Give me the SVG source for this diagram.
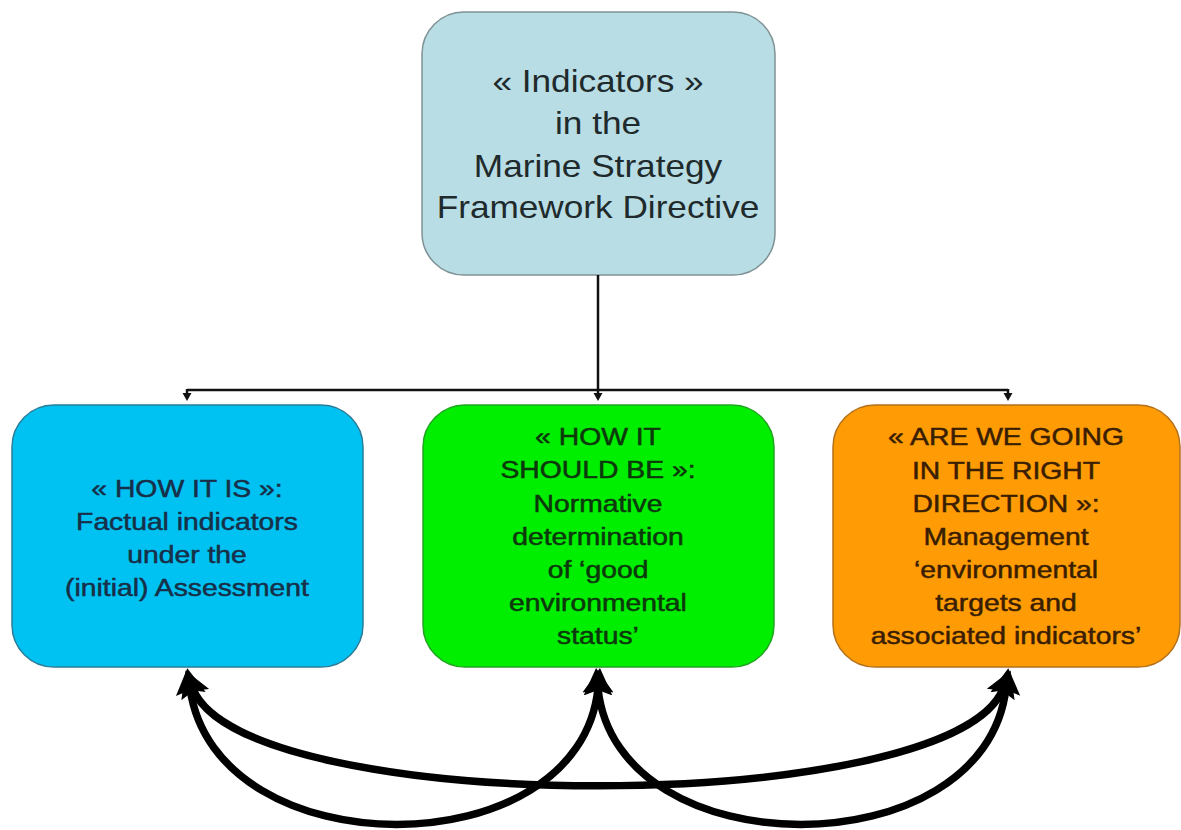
<svg xmlns="http://www.w3.org/2000/svg" width="1181" height="830" viewBox="0 0 1181 830">
  <defs>
    <marker id="bigArrow" markerUnits="userSpaceOnUse" markerWidth="30" markerHeight="32" refX="6" refY="16" orient="auto-start-reverse">
      <path d="M0,1 L26,16 L0,31 L4,16 z" fill="#000"/>
    </marker>
    <marker id="smallArrow" markerUnits="userSpaceOnUse" markerWidth="12" markerHeight="12" refX="2" refY="6" orient="auto">
      <path d="M0,1.5 L8,6 L0,10.5 z" fill="#111"/>
    </marker>
    <style>
      .box { stroke-width: 1.5; }
      .t { font-family: "Liberation Sans", Arial, sans-serif; text-anchor: middle; }
      .top { font-size: 32px; fill: #1f2a2c; }
      .low { font-size: 24px; stroke-width: 0.5px; }
      .thin { fill: none; stroke: #111; stroke-width: 2.5; }
      .thick { fill: none; stroke: #000; stroke-width: 7.5; }
    </style>
  </defs>
  <rect width="1181" height="830" fill="#ffffff"/>

  <g id="node-top">
    <rect class="box" x="422" y="12" width="353" height="263" rx="42" ry="42" fill="#b8dde4" stroke="#7f9194"/>
    <g class="t top" transform="translate(598,0) scale(1.1,1)">
      <text x="0" y="92">« Indicators »</text>
      <text x="0" y="134">in the</text>
      <text x="0" y="177">Marine Strategy</text>
      <text x="0" y="218">Framework Directive</text>
    </g>
  </g>

  <g id="node-how-it-is">
    <rect class="box" x="12" y="405" width="351" height="262" rx="42" ry="42" fill="#00c2f2" stroke="#2a7d98"/>
    <g class="t low" fill="#172f48" stroke="#172f48" transform="translate(187,0) scale(1.18,1)">
      <text x="0" y="497">« HOW IT IS »:</text>
      <text x="0" y="530">Factual indicators</text>
      <text x="0" y="563">under the</text>
      <text x="0" y="596">(initial) Assessment</text>
    </g>
  </g>

  <g id="node-should-be">
    <rect class="box" x="423" y="405" width="351" height="262" rx="42" ry="42" fill="#00ee00" stroke="#22a522"/>
    <g class="t low" fill="#0c380c" stroke="#0c380c" transform="translate(598,0) scale(1.18,1)">
      <text x="0" y="445">« HOW IT</text>
      <text x="0" y="478">SHOULD BE »:</text>
      <text x="0" y="512">Normative</text>
      <text x="0" y="545">determination</text>
      <text x="0" y="578">of ‘good</text>
      <text x="0" y="611">environmental</text>
      <text x="0" y="644">status’</text>
    </g>
  </g>

  <g id="node-right-direction">
    <rect class="box" x="833" y="405" width="347" height="262" rx="42" ry="42" fill="#ff9c05" stroke="#b4701c"/>
    <g class="t low" fill="#3a1e02" stroke="#3a1e02" transform="translate(1006,0) scale(1.18,1)">
      <text x="0" y="445">« ARE WE GOING</text>
      <text x="0" y="479">IN THE RIGHT</text>
      <text x="0" y="512">DIRECTION »:</text>
      <text x="0" y="545">Management</text>
      <text x="0" y="578">‘environmental</text>
      <text x="0" y="611">targets and</text>
      <text x="0" y="644">associated indicators’</text>
    </g>
  </g>

  <g id="connectors">
    <path class="thin" d="M598,275 L598,390"/>
    <path class="thin" d="M187,390 L1008,390"/>
    <path class="thin" d="M187,389 L187,395" marker-end="url(#smallArrow)"/>
    <path class="thin" d="M598,389 L598,395" marker-end="url(#smallArrow)"/>
    <path class="thin" d="M1008,389 L1008,395" marker-end="url(#smallArrow)"/>

    <path class="thick" d="M190,688 C215,870 580,870 598,688" marker-start="url(#bigArrow)" marker-end="url(#bigArrow)"/>
    <path class="thick" d="M598,688 C616,870 985,870 1006,688" marker-start="url(#bigArrow)" marker-end="url(#bigArrow)"/>
    <path class="thick" d="M193,689 C245,818 950,818 1003,689" marker-start="url(#bigArrow)" marker-end="url(#bigArrow)"/>
  </g>
</svg>
